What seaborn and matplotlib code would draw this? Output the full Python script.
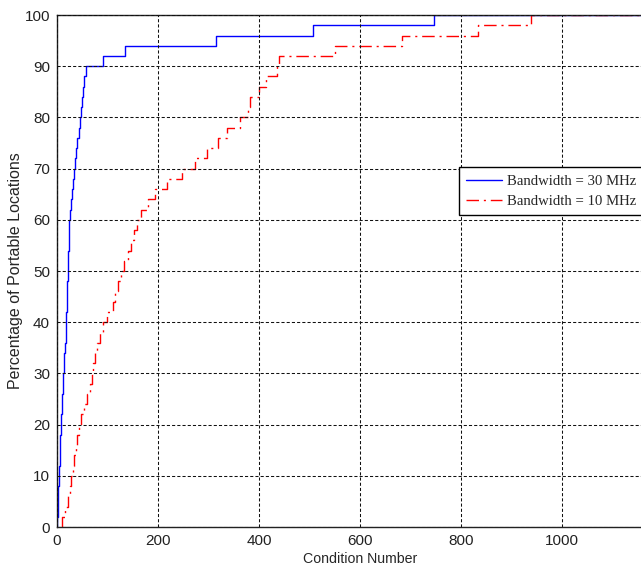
import matplotlib
matplotlib.use('Agg')
import matplotlib.pyplot as plt
import numpy as np
import pandas as pd
import seaborn as sns

# condition numbers (50 portable locations per bandwidth)
cond_30mhz = [1, 1.5, 2, 3, 4, 4.5, 5, 6, 6.5, 7.5,
              8.5, 9.5, 10.5, 11.5, 12.5, 13.5, 14.5, 15.5, 17, 18,
              18.5, 19, 19.5, 20, 21, 22, 22.5, 23, 23.5, 24,
              25.5, 27, 29, 31, 34, 36, 38, 40, 43, 45.5,
              47.5, 49.5, 52, 54, 57, 92, 134, 314, 506, 746]
cond_10mhz = [9, 16, 21, 25, 28, 31, 34, 37, 40, 43,
              48, 54, 60, 66, 69, 72, 76, 80, 86, 91,
              99, 110, 115, 120, 127, 132, 140, 146, 153, 158,
              166, 180, 195, 218, 247, 274, 297, 318, 336, 362,
              378, 383, 400, 414, 436, 440, 550, 683, 834, 939]
labels = ['Bandwidth = 30 MHz', 'Bandwidth = 10 MHz']
x_ticks = [0, 200, 400, 600, 800, 1000]
y_ticks = list(range(0, 101, 10))

df = pd.concat([
    pd.DataFrame({'cond': cond_30mhz, 'bw': labels[0]}),
    pd.DataFrame({'cond': cond_10mhz, 'bw': labels[1]}),
])

sns.set_style('white')
plt.rcParams['font.family'] = ['Liberation Sans', 'DejaVu Sans']

fig = plt.figure(figsize=(6.41, 5.69), dpi=100)
# right edge of the axes runs past the figure, as in the cropped original
ax = fig.add_axes([0.0889, 0.0738, 0.9454, 0.8998])

styles = {labels[0]: dict(color='#0000ff', linestyle='-'),
          labels[1]: dict(color='#ff0000', linestyle=(0, (9, 3.5, 1.5, 3.5)))}
for lab in labels:
    sub = df[df['bw'] == lab]
    sns.ecdfplot(x=sub['cond'], stat='percent', ax=ax, label=lab,
                 linewidth=1.0, **styles[lab])

ax.set_xlim(0, 1200)
ax.set_ylim(0, 100)

# matlab cdfplot keeps the top level running to the axis edge
xmax = ax.get_xlim()[1]
for line in ax.get_lines():
    xd, yd = line.get_data()
    line.set_data(np.append(xd, xmax), np.append(yd, yd[-1]))

ax.set_xticks(x_ticks)
ax.set_yticks(y_ticks)
ax.tick_params(direction='in', length=4, labelsize=11, colors='#222222',
               top=False, right=False)
ax.tick_params(axis='x', pad=5)
ax.tick_params(axis='y', pad=5)
ax.grid(True, color='#111111', linestyle=(0, (3, 2)), linewidth=0.75)
ax.set_axisbelow(False)

for s in ['left', 'bottom', 'top']:
    ax.spines[s].set_linewidth(1)
    ax.spines[s].set_color('#222222')
ax.spines['right'].set_visible(False)

ax.set_xlabel('Condition Number', fontsize=10.2, labelpad=3)
ax.set_ylabel('Percentage of Portable Locations', fontsize=11.5, labelpad=1)

leg = ax.legend(loc='upper left', bbox_to_anchor=(0.663, 0.703),
                prop={'family': 'Liberation Serif', 'size': 10.6},
                fancybox=False, framealpha=1, edgecolor='black',
                borderpad=0.5, labelspacing=0.45, handlelength=2.45,
                handletextpad=0.3, borderaxespad=0)
leg.get_frame().set_linewidth(1)

plt.savefig('out.png', dpi=100)
plt.close()
